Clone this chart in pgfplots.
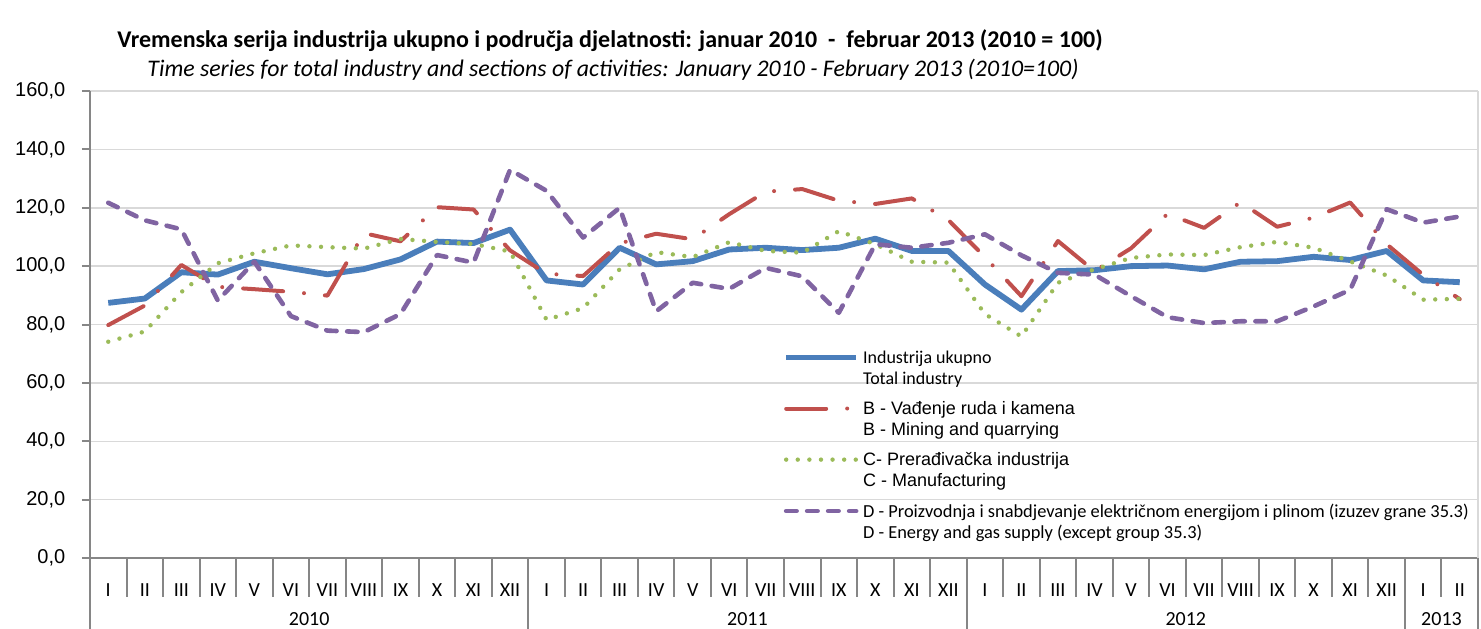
\documentclass[border=0pt]{standalone}
\usepackage{fontspec}
\setmainfont{Liberation Sans}
\newfontfamily\calibri{Carlito}
\usepackage{pgfplots}
\usepackage{pgfplotstable}
\pgfplotsset{compat=1.18}
\definecolor{cblue}{RGB}{74,126,187}
\definecolor{cred}{RGB}{192,80,77}
\definecolor{cgreen}{RGB}{155,187,89}
\definecolor{cpurple}{RGB}{128,100,162}
\definecolor{cgrid}{RGB}{217,217,217}
\definecolor{caxis}{RGB}{134,134,134}

\pgfplotstableread{
i tot min man ene
0 87.4 79.8 74.1 121.7
1 88.9 86.5 77.6 115.7
2 97.9 100.4 91.1 112.6
3 97.1 92.9 101.0 88.2
4 101.5 92.1 104.4 101.5
5 99.3 91.2 107.1 82.9
6 97.2 89.9 106.5 77.9
7 99.0 111.3 106.0 77.4
8 102.3 108.5 109.3 83.6
9 108.4 120.2 108.3 103.8
10 107.9 119.4 107.6 101.2
11 112.5 105.4 105.0 133.0
12 95.1 97.4 81.6 125.8
13 93.7 96.6 85.6 109.8
14 106.3 107.8 98.9 120.0
15 100.6 111.1 104.8 84.5
16 101.7 109.2 103.1 94.3
17 105.7 117.8 108.2 92.2
18 106.3 125.5 105.2 99.4
19 105.5 126.4 104.6 96.5
20 106.3 122.4 112.0 84.0
21 109.4 121.3 107.5 107.5
22 105.2 123.2 101.5 106.3
23 105.2 115.8 101.2 108.0
24 93.7 103.1 83.6 110.9
25 85.1 89.7 75.9 103.7
26 98.3 108.6 94.3 97.7
27 98.6 98.3 98.9 97.1
28 100.0 106.1 102.8 89.7
29 100.2 117.9 104.0 82.5
30 98.9 113.1 103.8 80.5
31 101.5 121.9 106.5 81.1
32 101.7 113.5 108.3 81.1
33 103.2 116.6 106.3 86.2
34 102.1 121.8 101.6 91.9
35 105.2 107.5 96.8 119.5
36 95.1 97.0 88.5 114.9
37 94.5 88.7 88.8 117.0
}\data

\begin{document}
\begin{tikzpicture}
\path[use as bounding box] (0,0) rectangle (740.5pt,314pt);
\node[anchor=base, font=\calibri\bfseries\fontsize{12}{14}\selectfont] at (305pt,290pt)
  {Vremenska serija industrija ukupno i područja djelatnosti: januar 2010 \ - \ februar 2013 (2010 = 100)};
\node[anchor=base, font=\calibri\itshape\fontsize{11.9}{14}\selectfont] at (306.5pt,276pt)
  {Time series for total industry and sections of activities: January 2010 - February 2013 (2010=100)};
\begin{axis}[
  at={(45pt,35pt)}, anchor=south west, scale only axis,
  width=694pt, height=233.5pt,
  xmin=-0.5, xmax=37.5, ymin=0, ymax=160,
  clip=false,
  axis x line*=bottom, axis y line*=left,
  axis line style={caxis, line width=1pt},
  ytick={0,20,...,160},
  ymajorgrids, grid style={cgrid, line width=0.75pt},
  tick align=outside, major tick length=4pt,
  ytick style={caxis, line width=1pt},
  xtick style={draw=none},
  xtick={0,...,37},
  xticklabels={I,II,III,IV,V,VI,VII,VIII,IX,X,XI,XII,I,II,III,IV,V,VI,VII,VIII,IX,X,XI,XII,I,II,III,IV,V,VI,VII,VIII,IX,X,XI,XII,I,II},
  xticklabel style={font=\calibri\fontsize{10}{12}\selectfont, anchor=base, yshift=-15pt},
  /pgf/number format/assume math mode=true,
  yticklabel style={font=\fontsize{10}{12}\selectfont, anchor=east, inner sep=0pt, xshift=-8.2pt,
    /pgf/number format/fixed, /pgf/number format/fixed zerofill,
    /pgf/number format/precision=1, /pgf/number format/use comma},
  legend cell align=left,
  legend style={at={(axis cs:18.48,72.3)}, anchor=north west, draw=none, fill=none,
    inner sep=0pt, outer sep=0pt, row sep=13.5pt, column sep=0pt,
    font=\fontsize{9}{10.3}\selectfont,
    cells={anchor=base west}},
  legend image code/.code={\draw[#1] (0pt,3pt) -- (35pt,3pt);},
]
\addplot[cblue, line width=2.9pt, line join=round] table[x=i,y=tot]{\data};
\addlegendentry{\vtop{\baselineskip=10.3pt\hbox{\calibri Industrija ukupno}\hbox{\calibri Total industry}}}
\addplot[cred, line width=2pt, line cap=round, line join=round, dash pattern=on 20pt off 10.5pt on 0pt off 10.5pt] table[x=i,y=min]{\data};
\addlegendentry{\vtop{\baselineskip=10.3pt\hbox{B - Vađenje ruda i kamena}\hbox{B - Mining and quarrying}}}
\addplot[cgreen, line width=2.2pt, line cap=round, line join=round, dash pattern=on 0pt off 5.8pt] table[x=i,y=man]{\data};
\addlegendentry{\vtop{\baselineskip=10.3pt\hbox{C- Prerađivačka industrija}\hbox{C - Manufacturing}}}
\addplot[cpurple, line width=2.3pt, line cap=round, line join=round, dash pattern=on 5.2pt off 5.3pt] table[x=i,y=ene]{\data};
\addlegendentry{\vtop{\baselineskip=10.5pt\hbox{\calibri\fontsize{9.2}{10.5}\selectfont D - Proizvodnja i snabdjevanje električnom energijom i plinom (izuzev grane 35.3)}\hbox{\calibri\fontsize{9.2}{10.5}\selectfont D - Energy and gas supply (except group 35.3)}}}
% category separators
\pgfplotsinvokeforeach{0.5,1.5,2.5,3.5,4.5,5.5,6.5,7.5,8.5,9.5,10.5,12.5,13.5,14.5,15.5,16.5,17.5,18.5,19.5,20.5,21.5,22.5,24.5,25.5,26.5,27.5,28.5,29.5,30.5,31.5,32.5,33.5,34.5,36.5}{
  \draw[caxis, line width=1pt] (axis cs:#1,0) -- ([yshift=-19.3pt]axis cs:#1,0);
}
\pgfplotsinvokeforeach{-0.5,11.5,23.5,35.5,37.5}{
  \draw[caxis, line width=1pt] (axis cs:#1,0) -- ([yshift=-36pt]axis cs:#1,0);
}
\draw[cgrid, line width=0.75pt] (axis cs:37.5,0) -- (axis cs:37.5,160);
\node[anchor=base, font=\calibri\fontsize{10}{12}\selectfont, yshift=-33.5pt] at (axis cs:5.5,0) {2010};
\node[anchor=base, font=\calibri\fontsize{10}{12}\selectfont, yshift=-33.5pt] at (axis cs:17.5,0) {2011};
\node[anchor=base, font=\calibri\fontsize{10}{12}\selectfont, yshift=-33.5pt] at (axis cs:29.5,0) {2012};
\node[anchor=base, font=\calibri\fontsize{10}{12}\selectfont, yshift=-33.5pt] at (axis cs:36.5,0) {2013};
\end{axis}
\end{tikzpicture}
\end{document}
